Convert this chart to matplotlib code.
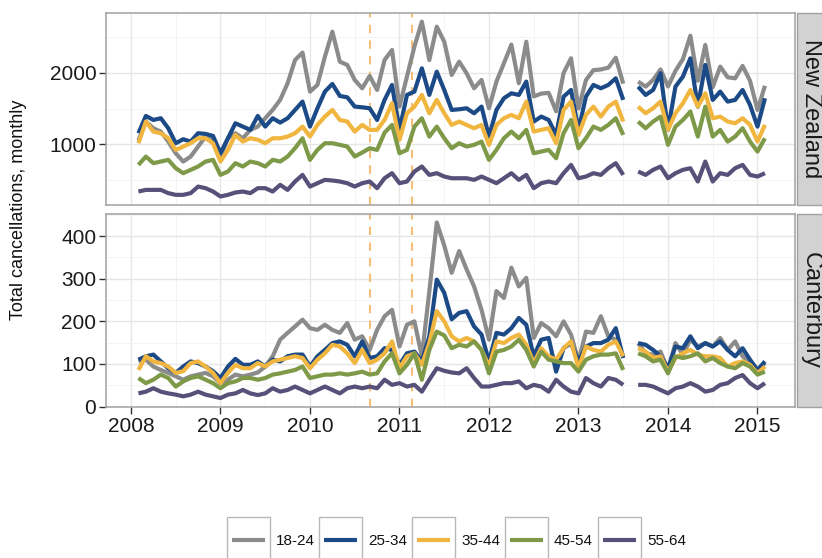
import numpy as np
import matplotlib
matplotlib.use('Agg')
import matplotlib.pyplot as plt
from matplotlib.patches import Rectangle
from matplotlib.lines import Line2D
from matplotlib.ticker import FixedLocator, MultipleLocator

plt.rcParams['font.family'] = ['Liberation Sans', 'DejaVu Sans']

nan = np.nan
age_groups = ['18-24', '25-34', '35-44', '45-54', '55-64']
colors = ['#8b8b8b', '#1c4a86', '#f1b63f', '#7e9a48', '#57517a']
regions = ['New Zealand', 'Canterbury']
year_ticks = [2008, 2009, 2010, 2011, 2012, 2013, 2014, 2015]
quake_dates = [2010.674, 2011.142]  # 4 Sep 2010, 22 Feb 2011

# monthly, Feb 2008 .. Feb 2015 (Aug 2013 missing)
month_index = np.arange(85)
decimal_year = 2008 + (month_index + 1) / 12.0

nz_18_24 = [1050, 1316, 1222, 1175, 1034, 870, 753, 823, 964, 1105, 1081, 823, 1081, 1152, 1081, 1199, 1245,
            1363, 1480, 1621, 1855, 2183, 2287, 1738, 1832, 2230, 2582, 2160, 2113, 1902, 1785, 1958, 1761, 2183,
            2324, 1527, 1949, 2371, 2723, 2183, 2652, 2441, 1972, 2160, 1996, 1785, 1902, 1503, 1879, 2137, 2400,
            1856, 2441, 1670, 1710, 1720, 1460, 2000, 2207, 1500, 1900, 2040, 2050, 2075, 2215, 1850,
            nan,
            1879, 1808, 1902, 2050, 1810, 2030, 2195, 2525, 1890, 2395, 1800, 2090, 1940, 1925, 2100, 1890, 1480, 1820]
nz_25_34 = [1152, 1395, 1339, 1363, 1222, 1011, 1067, 1034, 1152, 1142, 1114, 870, 1081, 1292, 1245, 1199, 1395,
            1245, 1363, 1302, 1363, 1480, 1597, 1245, 1503, 1738, 1846, 1677, 1658, 1527, 1517, 1503, 1339, 1621,
            1832, 1199, 1691, 1738, 2066, 1691, 2019, 1761, 1480, 1489, 1503, 1433, 1527, 1105, 1480, 1644, 1714,
            1691, 1879, 1316, 1386, 1339, 1128, 1667, 1761, 1199, 1667, 1832, 1785, 1832, 1926, 1621,
            nan,
            1808, 1691, 1761, 1996, 1199, 1808, 1949, 2207, 1527, 2113, 1621, 1738, 1597, 1621, 1761, 1550, 1245, 1644]
nz_35_44 = [1011, 1316, 1175, 1152, 1081, 917, 964, 1011, 1081, 1081, 1011, 753, 917, 1128, 1034, 1081, 1060,
            1011, 1081, 1081, 1105, 1152, 1245, 1105, 1269, 1386, 1480, 1339, 1316, 1175, 1269, 1199, 1199, 1339,
            1574, 1058, 1433, 1527, 1691, 1433, 1621, 1433, 1269, 1316, 1269, 1222, 1269, 988, 1269, 1363, 1410,
            1363, 1597, 1175, 1199, 1222, 1011, 1480, 1597, 1128, 1410, 1527, 1386, 1527, 1597, 1316,
            nan,
            1527, 1433, 1503, 1597, 1199, 1433, 1574, 1761, 1527, 1714, 1363, 1386, 1316, 1292, 1363, 1269, 1034, 1269]
nz_45_54 = [706, 823, 730, 753, 777, 660, 589, 636, 683, 753, 777, 566, 612, 730, 683, 753, 730,
            683, 777, 753, 824, 941, 1081, 777, 917, 1011, 1011, 988, 964, 824, 880, 941, 917, 1160,
            1269, 870, 917, 1245, 1363, 1105, 1245, 1081, 941, 1011, 964, 988, 1034, 777, 917, 1081, 1175,
            1081, 1199, 870, 894, 917, 800, 1152, 1339, 941, 1081, 1245, 1199, 1269, 1363, 1128,
            nan,
            1316, 1222, 1316, 1386, 988, 1245, 1339, 1457, 1105, 1527, 1105, 1199, 1034, 1105, 1222, 1034, 894, 1081]
nz_55_64 = [331, 354, 354, 354, 308, 284, 284, 308, 401, 378, 331, 261, 284, 317, 331, 308, 378,
            378, 331, 425, 354, 472, 565, 401, 448, 495, 486, 472, 448, 401, 448, 472, 378, 518,
            589, 448, 472, 612, 683, 565, 589, 542, 518, 518, 518, 495, 542, 495, 448, 518, 589,
            495, 565, 378, 448, 472, 448, 589, 706, 518, 542, 589, 565, 659, 730, 565,
            nan,
            612, 565, 636, 683, 518, 589, 636, 659, 472, 753, 472, 589, 565, 659, 706, 565, 542, 589]

cant_18_24 = [106, 110, 94, 86, 79, 71, 63, 71, 75, 79, 71, 55, 63, 75, 71,
              75, 80, 94, 118, 157, 173, 188, 204, 184, 180, 192, 180, 173, 196, 157, 165, 133, 180, 212, 227,
              141, 192, 200, 118, 270, 432, 378, 314,
              365, 322, 282, 227, 157, 271, 255, 326, 282, 302, 161, 196, 184, 165, 200, 169, 106, 176, 173, 212,
              165, 157, 118,
              nan,
              149, 125, 122, 129, 86, 149, 122, 157, 141, 149, 141, 161, 133, 153, 118, 102, 86, 102]
cant_25_34 = [110, 118, 122, 106, 90, 79, 94, 106, 102, 94, 83, 67, 94, 112, 98,
              98, 106, 94, 110, 106, 118, 122, 122, 94, 118, 133, 149, 153, 145, 118, 153, 114, 118, 137, 133,
              98, 125, 129, 106, 165, 298, 267, 205,
              220, 224, 188, 169, 106, 173, 169, 184, 208, 192, 118, 157, 161, 82, 137, 149, 106, 141, 149, 149,
              157, 184, 114,
              nan,
              149, 145, 133, 118, 90, 141, 137, 165, 137, 149, 141, 153, 133, 118, 137, 110, 86, 106]
cant_35_44 = [86, 118, 106, 102, 94, 79, 83, 102, 106, 94, 79, 55, 79, 98, 90,
              90, 102, 94, 106, 110, 114, 118, 114, 90, 110, 125, 145, 141, 125, 102, 133, 102, 110, 125, 153,
              90, 118, 125, 98, 149, 224, 200, 165,
              153, 161, 153, 133, 94, 153, 149, 161, 169, 145, 102, 137, 118, 110, 137, 153, 90, 141, 133, 129,
              145, 153, 118,
              nan,
              137, 129, 114, 118, 82, 114, 125, 133, 122, 118, 118, 114, 94, 102, 106, 98, 78, 94]
cant_45_54 = [67, 55, 63, 75, 67, 47, 59, 67, 71, 63, 55, 43, 55, 59, 67,
              67, 63, 67, 75, 78, 82, 86, 94, 67, 71, 75, 75, 78, 75, 78, 82, 75, 78, 106, 125,
              78, 98, 125, 63, 133, 176, 167, 137,
              145, 141, 153, 133, 78, 129, 133, 141, 157, 133, 94, 129, 110, 106, 102, 102, 82, 110, 118, 122,
              122, 125, 86,
              nan,
              125, 118, 106, 110, 78, 118, 114, 118, 125, 106, 114, 102, 94, 90, 102, 94, 75, 82]
cant_55_64 = [31, 35, 43, 35, 31, 28, 24, 28, 35, 28, 24, 20, 28, 31, 39,
              31, 27, 31, 43, 35, 39, 47, 39, 31, 39, 47, 39, 31, 43, 47, 43, 47, 43, 63, 51,
              55, 47, 51, 35, 63, 90, 84, 80,
              78, 90, 67, 47, 47, 51, 55, 55, 59, 43, 51, 47, 35, 63, 47, 35, 31, 67, 55, 47,
              67, 63, 51,
              nan,
              51, 51, 47, 39, 31, 43, 47, 55, 47, 35, 39, 51, 55, 67, 74, 55, 43, 55]

nz_series = [nz_18_24, nz_25_34, nz_35_44, nz_45_54, nz_55_64]
cant_series = [cant_18_24, cant_25_34, cant_35_44, cant_45_54, cant_55_64]

W, H = 822, 558
fig = plt.figure(figsize=(W / 100, H / 100), dpi=100)
fig.patch.set_facecolor('white')

def fx(px):
    return px / W

def fy(py):
    return 1 - py / H

left, right = 106, 795
ax_top = fig.add_axes([fx(left), fy(205), fx(right - left), fy(13) - fy(205)])
ax_bot = fig.add_axes([fx(left), fy(407), fx(right - left), fy(214) - fy(407)])

panel_specs = [
    (ax_top, nz_series, (141, 2845), [1000, 2000], 500),
    (ax_bot, cant_series, (-1, 452), [0, 100, 200, 300, 400], 50),
]

tick_col = '#333333'
for ax, series, ylim, yticks, minor in panel_specs:
    ax.set_facecolor('white')
    for s, c, lab in zip(series, colors, age_groups):
        ax.plot(decimal_year, s, color=c, lw=3.0, solid_joinstyle='round',
                solid_capstyle='butt', label=lab, zorder=3)
    for q in quake_dates:
        ax.axvline(q, color='#f3bf78', lw=1.5, ls=(0, (4, 3.5)), zorder=2)
    ax.set_xlim(2007.721, 2015.419)
    ax.set_ylim(*ylim)
    ax.yaxis.set_major_locator(FixedLocator(yticks))
    ax.yaxis.set_minor_locator(MultipleLocator(minor))
    ax.xaxis.set_major_locator(FixedLocator(year_ticks))
    ax.xaxis.set_minor_locator(MultipleLocator(0.5))
    ax.grid(which='major', color='#e6e6e6', lw=1.0, zorder=0)
    ax.grid(which='minor', color='#f3f3f3', lw=0.6, zorder=0)
    ax.set_axisbelow(True)
    for sp in ax.spines.values():
        sp.set_color('#a0a0a0')
        sp.set_linewidth(1.1)
    ax.tick_params(axis='both', which='major', length=5, width=1.0, color=tick_col,
                   labelcolor='#1a1a1a', labelsize=15, pad=2)
    ax.tick_params(axis='both', which='minor', length=0)

ax_top.tick_params(axis='x', which='major', length=0, labelbottom=False)
ax_bot.set_xticklabels([str(y) for y in year_ticks])

# facet strips
for ax, name, (ytop, ybot) in [(ax_top, regions[0], (13, 205)), (ax_bot, regions[1], (214, 407))]:
    rect = Rectangle((fx(797), fy(ybot)), fx(40), fy(ytop) - fy(ybot), transform=fig.transFigure,
                     facecolor='#d2d2d2', edgecolor='#a0a0a0', lw=1.0)
    fig.add_artist(rect)
    fig.text(fx(811), (fy(ytop) + fy(ybot)) / 2, name, rotation=-90, ha='center', va='center',
             fontsize=17, color='#1a1a1a')

fig.text(fx(19), (fy(13) + fy(407)) / 2, 'Total cancellations, monthly', rotation=90,
         ha='center', va='center', fontsize=13, color='#111111')

# legend
key_lefts = [227, 319, 412, 505, 598]
for kx, c, lab in zip(key_lefts, colors, age_groups):
    fig.add_artist(Rectangle((fx(kx), fy(565)), fx(43), fy(517) - fy(565), transform=fig.transFigure,
                             facecolor='white', edgecolor='#b8b8b8', lw=1.0))
    fig.add_artist(Line2D([fx(kx + 5), fx(kx + 38)], [fy(540), fy(540)], transform=fig.transFigure,
                          color=c, lw=3.0, solid_capstyle='butt'))
    fig.text(fx(kx + 49), fy(541), lab, ha='left', va='center', fontsize=11, color='#111111')

fig.savefig('out.png', dpi=100)
